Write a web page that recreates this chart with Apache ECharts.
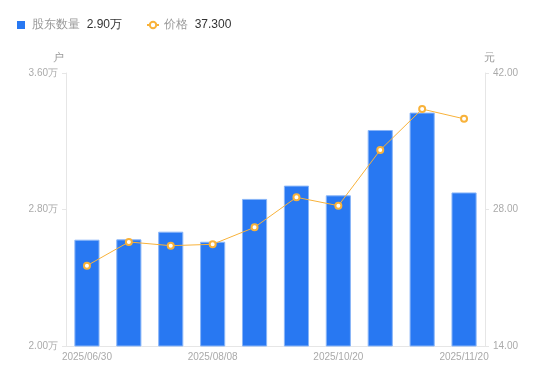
<!DOCTYPE html>
<html>
<head>
<meta charset="utf-8">
<script src="https://cdn.jsdelivr.net/npm/echarts@6/dist/echarts.min.js"></script>
<style>html,body{margin:0;padding:0;background:#fff;}#c{width:550px;height:381px;}</style>
</head>
<body>
<div id="c"></div>
<script>
var categories = ['2025/06/30','2025/07/10','2025/07/20','2025/08/08','2025/08/29','2025/09/30','2025/10/20','2025/10/31','2025/11/10','2025/11/20'];
var holders = [2.623, 2.625, 2.670, 2.611, 2.862, 2.940, 2.883, 3.266, 3.368, 2.900];
var prices = [22.24, 24.67, 24.29, 24.43, 26.17, 29.25, 28.39, 34.10, 38.30, 37.30];
var leftTicks = [2.0, 3.6, 0.8];
var rightTicks = [14, 42, 14];

var chart = echarts.init(document.getElementById('c'));
var lastH = holders[holders.length - 1].toFixed(2) + '万';
var lastP = prices[prices.length - 1].toFixed(3);
chart.setOption({
  animation: false,
  legend: {
    left: 12, top: 14,
    itemGap: 24,
    itemWidth: 12, itemHeight: 8,
    data: [{name: '股东数量', icon: 'path://M0,0h8v8h-8z', itemStyle: {borderWidth: 0, color: '#2878f2'}}, {name: '价格'}],
    formatter: function (n) {
      return '{n|' + n + '}  {v|' + (n === '股东数量' ? lastH : lastP) + '}';
    },
    textStyle: {
      rich: {
        n: {color: '#999', fontSize: 12},
        v: {color: '#333', fontSize: 12}
      }
    }
  },
  grid: {left: 66, right: 65, top: 73, bottom: 35},
  xAxis: {
    type: 'category',
    data: categories,
    axisLine: {lineStyle: {color: '#e6e6e6'}},
    axisTick: {show: false},
    axisLabel: {color: '#aaa', fontSize: 10, interval: 2, margin: 6}
  },
  yAxis: [{
    type: 'value',
    name: '户',
    nameTextStyle: {color: '#999', fontSize: 11, padding: [0, 16, 0, 0]},
    nameGap: 10,
    min: leftTicks[0], max: leftTicks[1], interval: leftTicks[2],
    axisLine: {show: true, lineStyle: {color: '#e6e6e6'}},
    axisTick: {show: true, length: 4, lineStyle: {color: '#e6e6e6'}},
    splitLine: {show: false},
    axisLabel: {color: '#aaa', fontSize: 10, margin: 8, formatter: function (v) { return v.toFixed(2) + '万'; }}
  }, {
    type: 'value',
    name: '元',
    nameTextStyle: {color: '#999', fontSize: 11, padding: [0, 0, 0, 8]},
    nameGap: 10,
    min: rightTicks[0], max: rightTicks[1], interval: rightTicks[2],
    axisLine: {show: true, lineStyle: {color: '#e6e6e6'}},
    axisTick: {show: true, length: 4, lineStyle: {color: '#e6e6e6'}},
    splitLine: {show: false},
    axisLabel: {color: '#aaa', fontSize: 10, margin: 8, formatter: function (v) { return v.toFixed(2); }}
  }],
  series: [{
    name: '股东数量',
    type: 'bar',
    yAxisIndex: 0,
    data: holders,
    barWidth: '60%',
    itemStyle: {color: '#2878f2', borderColor: '#8ab6f8', borderWidth: 1}
  }, {
    name: '价格',
    type: 'line',
    yAxisIndex: 1,
    data: prices,
    symbol: 'emptyCircle',
    symbolSize: 6,
    lineStyle: {color: '#f8b23a', width: 1},
    itemStyle: {color: '#f8b23a', borderWidth: 2}
  }]
});
</script>
</body>
</html>
